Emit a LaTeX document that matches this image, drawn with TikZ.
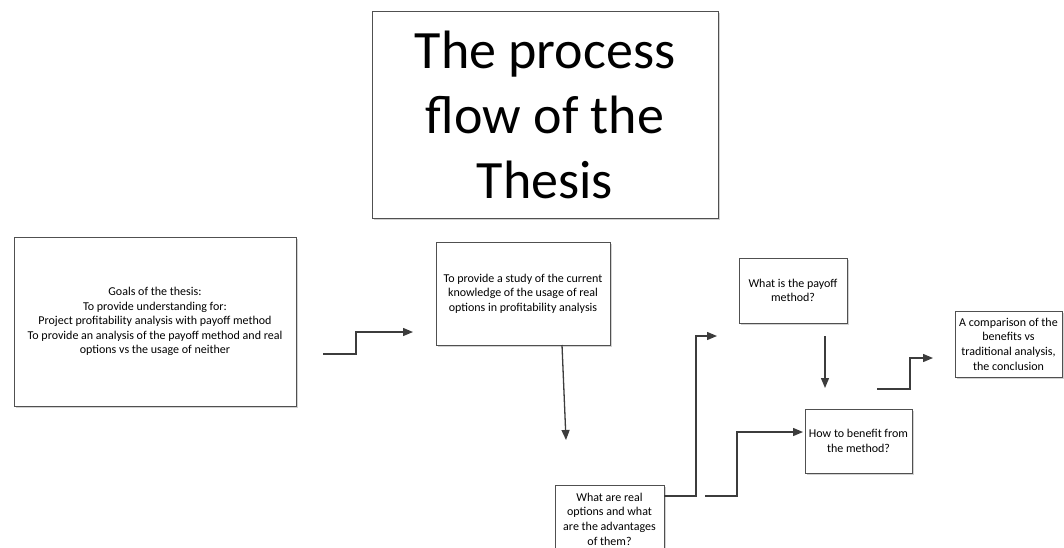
\documentclass[tikz,border=0pt]{standalone}
\usepackage{fontspec}
\setmainfont{Carlito}
\usetikzlibrary{arrows.meta,shadows}
\definecolor{edge}{HTML}{505050}
\definecolor{wire}{HTML}{3C3C3C}
\begin{document}
\begin{tikzpicture}[x=1pt,y=-1pt,
  card/.style={draw=edge,line width=0.8pt,fill=white,align=center,
    inner sep=0pt,anchor=center,
    drop shadow={shadow xshift=1.6pt,shadow yshift=-1.6pt,fill=black!22,opacity=0.8},
    font=\fontsize{12}{14.6}\selectfont},
  flow/.style={draw=wire,line width=1.3pt,
    -{Triangle[length=10pt,width=8pt]}}]
\useasboundingbox (0,0) rectangle (1064,547);
\clip (0,0) rectangle (1064,547);

% title
\node[card,minimum width=346pt,minimum height=207pt,
  font=\fontsize{54}{65}\selectfont] (title) at (545,114.5)
  {The process\\flow of the\\Thesis};

% boxes of the flow
\node[card,minimum width=282pt,minimum height=169pt] (goals) at (155,321.5)
  {Goals of the thesis:\\To provide understanding for:\\Project profitability analysis with payoff method\\To provide an analysis of the payoff method and real\\options vs the usage of neither};
\node[card,minimum width=174pt,minimum height=103pt] (study) at (523,293.5)
  {To provide a study of the current\\knowledge of the usage of real\\options in profitability analysis};
\node[card,minimum width=109pt,minimum height=68pt] (real) at (609.5,519)
  {What are real\\options and what\\are the advantages\\of them?};
\node[card,minimum width=108pt,minimum height=65pt] (payoff) at (793,290.5)
  {What is the payoff\\method?};
\node[card,minimum width=107pt,minimum height=64pt] (how) at (858.5,441)
  {How to benefit from\\the method?};
\node[card,minimum width=107pt,minimum height=66pt] (concl) at (1008.5,344)
  {A comparison of the\\benefits vs\\traditional analysis,\\the conclusion};

% connector end points
\coordinate (a1s) at (323,354);
\coordinate (a1e) at (413,332);
\coordinate (a2s) at (562,345);
\coordinate (a2e) at (566,440);
\coordinate (a3s) at (664,496);
\coordinate (a3e) at (717,336);
\coordinate (a4s) at (825,336);
\coordinate (a4e) at (825,388);
\coordinate (a5s) at (705,496);
\coordinate (a5e) at (803,432);
\coordinate (a6s) at (877,389);
\coordinate (a6e) at (933,358);

% connectors
\draw[flow] (a1s) -- (356,354) -- (356,332) -- (a1e);
\draw[flow] (a2s) -- (a2e);
\draw[flow] (a3s) -- (696,496) -- (696,336) -- (a3e);
\draw[flow] (a4s) -- (a4e);
\draw[flow] (a5s) -- (737,496) -- (737,432) -- (a5e);
\draw[flow] (a6s) -- (910,389) -- (910,358) -- (a6e);
\end{tikzpicture}
\end{document}
